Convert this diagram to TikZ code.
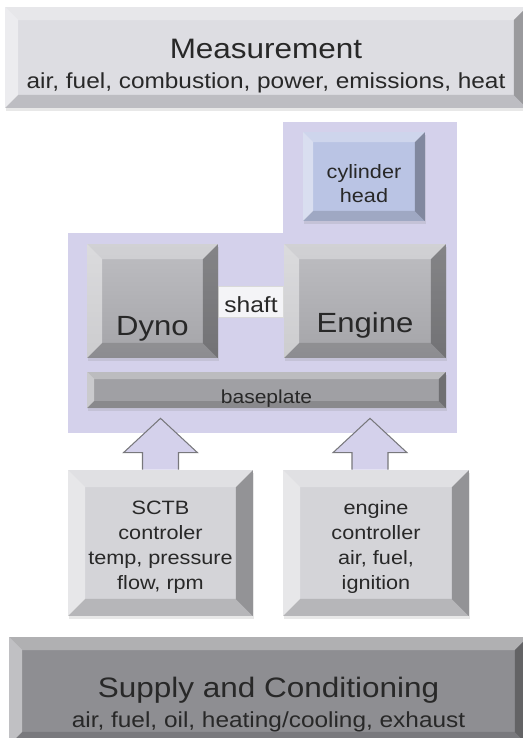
\documentclass[tikz,border=0pt]{standalone}
\usepackage{fontspec}
\setmainfont{Liberation Sans}[FakeStretch=1.12]
\usepackage{tikz}
\usetikzlibrary{calc,shadows}
\usepackage{xcolor}
\definecolor{measgrey}{RGB}{221,221,226}
\definecolor{ctlgrey}{RGB}{212,212,216}
\definecolor{supgrey}{RGB}{142,142,146}
\definecolor{unittop}{RGB}{190,190,194}
\definecolor{unitbot}{RGB}{164,164,168}
\definecolor{basegrey}{RGB}{160,160,164}
\definecolor{headblue}{RGB}{186,196,228}
\definecolor{rigpurple}{RGB}{212,209,235}
\definecolor{shaftwhite}{RGB}{244,244,247}
\definecolor{arrowline}{RGB}{120,120,124}
\definecolor{txtgrey}{RGB}{40,40,40}

\begin{document}
\begin{tikzpicture}[x=0.02cm, y=-0.02cm,
    blk/.style={rectangle, inner sep=0pt, align=center, text=txtgrey},
    soft/.style={drop shadow={opacity=0.18, shadow xshift=0.6pt, shadow yshift=-1.6pt}},
    bevel/.style={path picture={
        \fill[white, opacity=0.3] (path picture bounding box.north west) -- (path picture bounding box.north east)
            -- ($(path picture bounding box.north east)+(-#1,#1)$) -- ($(path picture bounding box.north west)+(#1,#1)$) -- cycle;
        \fill[white, opacity=0.45] (path picture bounding box.north west) -- ($(path picture bounding box.north west)+(#1,#1)$)
            -- ($(path picture bounding box.south west)+(#1,-#1)$) -- (path picture bounding box.south west) -- cycle;
        \fill[black, opacity=0.3] (path picture bounding box.north east) -- (path picture bounding box.south east)
            -- ($(path picture bounding box.south east)+(-#1,-#1)$) -- ($(path picture bounding box.north east)+(-#1,#1)$) -- cycle;
        \fill[black, opacity=0.14] (path picture bounding box.south west) -- (path picture bounding box.south east)
            -- ($(path picture bounding box.south east)+(-#1,-#1)$) -- ($(path picture bounding box.south west)+(#1,-#1)$) -- cycle;
    }},
    bigbox/.style={blk, soft, bevel=13, font=\fontsize{12.4}{17}\selectfont},
    unitbox/.style={blk, soft, bevel=15, minimum height=2.28cm, top color=unittop, bottom color=unitbot,
                    font=\fontsize{15.8}{19}\selectfont},
    ctlbox/.style={blk, soft, bevel=17, minimum height=2.92cm, fill=ctlgrey, font=\fontsize{11}{14.2}\selectfont},
    rigzone/.style={rectangle, fill=rigpurple, inner sep=0pt},
    blockarr/.style={draw=arrowline, fill=rigpurple, line width=0.6pt}
]
\useasboundingbox (0,0) rectangle (522,738);

% test bed zone
\node[rigzone, minimum width=7.78cm, minimum height=4cm]    (rig)    at (262.5,333) {};
\node[rigzone, minimum width=3.48cm, minimum height=2.24cm] (headrig) at (370,178) {};

\node[blk, soft, bevel=10, fill=headblue, minimum width=2.44cm, minimum height=1.78cm,
      font=\fontsize{11}{13.7}\selectfont] (head) at (364,176.5) {\rule{0pt}{16pt}cylinder\\head};

\node[blk, fill=shaftwhite, draw=black!15, minimum width=1.3cm, minimum height=0.58cm,
      font=\fontsize{12.5}{15}\selectfont, text height=0.52cm, text depth=0.1cm] (shaft) at (251,301.5) {shaft};
\node[unitbox, minimum width=2.62cm, text height=1.46cm, text depth=0.1cm] (dyno)   at (152.5,301) {Dyno};
\node[unitbox, minimum width=3.24cm, text height=1.34cm, text depth=0.1cm] (engine) at (365,301)   {Engine};
\node[blk, soft, bevel=7, fill=basegrey, minimum width=7.18cm, minimum height=0.72cm,
      font=\fontsize{10.7}{13}\selectfont, text height=0.62cm, text depth=0.1cm] (base) at (266.5,390) {baseplate};

\node[ctlbox, minimum width=3.7cm]  (sctb) at (160.5,543) {\rule{0pt}{12.6pt}SCTB\\controler\\temp, pressure\\flow, rpm};
\node[ctlbox, minimum width=3.72cm] (ectl) at (376,543)   {\rule{0pt}{12.6pt}engine\\controller\\air, fuel,\\ignition};

% feeds into the rig
\foreach \src/\dx in {sctb/0, ectl/-6}{
  \draw[blockarr] ($(\src.north)+(\dx-18,0)$) -- ++(0,-17) -- ++(-19,0)
      -- ($(\src.north |- rig.south)+(\dx,-15)$) -- ($(\src.north)+(\dx+37,-17)$) -- ++(-19,0) -- ++(0,17);
}

\node[bigbox, fill=measgrey, minimum width=10.44cm, minimum height=2.02cm] (meas) at (266,57.5)
  {\rule{0pt}{20.5pt}{\fontsize{16}{19}\selectfont Measurement}\\air, fuel, combustion, power, emissions, heat};
\node[bigbox, fill=supgrey, minimum width=10.38cm, minimum height=2.16cm] (supply) at (268.5,691)
  {\rule{0pt}{27.5pt}{\fontsize{16}{19}\selectfont Supply and Conditioning}\\air, fuel, oil, heating/cooling, exhaust};
\end{tikzpicture}
\end{document}
